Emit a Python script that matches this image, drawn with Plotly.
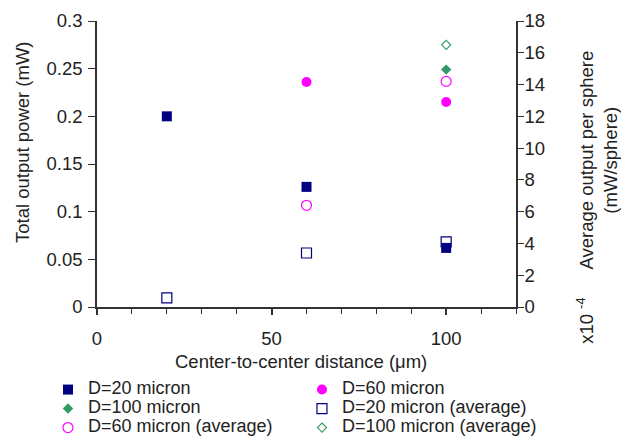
import plotly.graph_objects as go

# ---- data ----
x_d20 = [20, 60, 100]
y_d20 = [0.2, 0.126, 0.062]
x_d60 = [60, 100]
y_d60 = [0.236, 0.215]
x_d100 = [100]
y_d100 = [0.249]
x_d20_avg = [20, 60, 100]
y_d20_avg = [0.58, 3.4, 4.1]
x_d60_avg = [60, 100]
y_d60_avg = [6.4, 14.2]
x_d100_avg = [100]
y_d100_avg = [16.5]

names = ["D=20 micron", "D=60 micron", "D=100 micron",
         "D=20 micron (average)", "D=60 micron (average)", "D=100 micron (average)"]

NAVY = "#000080"
MAG = "#FF00FF"
GREEN = "#339966"
FONT = "Liberation Sans, Arial, sans-serif"
TXT = "#222222"
AX = "#333333"

def lname(s):
    return '<span style="font-size:18px">' + s + '</span>'

fig = go.Figure()
fig.add_trace(go.Scatter(x=x_d20, y=y_d20, mode="markers", name=lname(names[0]),
                         marker=dict(symbol="square", size=10, color=NAVY), yaxis="y"))
fig.add_trace(go.Scatter(x=x_d60, y=y_d60, mode="markers", name=lname(names[1]),
                         marker=dict(symbol="circle", size=10, color=MAG), yaxis="y"))
fig.add_trace(go.Scatter(x=x_d100, y=y_d100, mode="markers", name=lname(names[2]),
                         marker=dict(symbol="diamond", size=8, color=GREEN), yaxis="y"))
fig.add_trace(go.Scatter(x=x_d20_avg, y=y_d20_avg, mode="markers", name=lname(names[3]),
                         marker=dict(symbol="square-open", size=10, color=NAVY, line=dict(width=1.2, color=NAVY)),
                         yaxis="y2"))
fig.add_trace(go.Scatter(x=x_d60_avg, y=y_d60_avg, mode="markers", name=lname(names[4]),
                         marker=dict(symbol="circle-open", size=10, color=MAG, line=dict(width=1.2, color=MAG)),
                         yaxis="y2"))
fig.add_trace(go.Scatter(x=x_d100_avg, y=y_d100_avg, mode="markers", name=lname(names[5]),
                         marker=dict(symbol="diamond-open", size=7, color=GREEN, line=dict(width=1.1, color=GREEN)),
                         yaxis="y2"))

tickfont = dict(family=FONT, size=18.5, color=TXT)

fig.update_layout(
    width=621, height=436,
    margin=dict(l=97, r=105, t=21, b=129, autoexpand=False),
    paper_bgcolor="white", plot_bgcolor="white",
    font=dict(family=FONT, size=18.5, color=TXT),
    showlegend=True,
    legend=dict(orientation="h", xref="paper", yref="paper",
                x=-0.117, y=-0.238, xanchor="left", yanchor="top",
                font=dict(family=FONT, size=11, color=TXT),
                entrywidth=209, entrywidthmode="pixels",
                itemwidth=30, traceorder="normal", bgcolor="rgba(0,0,0,0)"),
    xaxis=dict(range=[0, 120], tickmode="array", tickvals=[0, 50, 100],
               ticks="outside", ticklen=6, tickwidth=1.5, tickcolor=AX,
               minor=dict(dtick=10, tick0=0, ticks="outside", ticklen=5, tickwidth=1, tickcolor=AX),
               showline=True, linecolor=AX, linewidth=1.5, showgrid=False, zeroline=False,
               tickfont=tickfont, ticklabelstandoff=8, automargin=False),
    yaxis=dict(range=[0, 0.3], dtick=0.05, tick0=0, ticks="outside", ticklen=7, tickwidth=1,
               tickcolor=AX, showline=True, linecolor=AX, linewidth=1.5, showgrid=False,
               zeroline=False, tickfont=tickfont, ticklabelstandoff=2, automargin=False),
    yaxis2=dict(range=[0, 18], dtick=2, tick0=0, overlaying="y", side="right", ticks="outside",
                ticklen=6, tickwidth=1, tickcolor=AX, showline=True, linecolor=AX, linewidth=1.5,
                showgrid=False, zeroline=False, tickfont=tickfont, ticklabelstandoff=-3, automargin=False),
)

ann = dict(xref="paper", yref="paper", showarrow=False, font=dict(family=FONT, size=18.5, color=TXT))
fig.add_annotation(text="Center-to-center distance (μm)", x=0.488, y=-0.189,
                   xanchor="center", yanchor="middle", **ann)
fig.add_annotation(text="Total output power (mW)", x=-0.1766, y=0.577, textangle=-90,
                   xanchor="center", yanchor="middle", **ann)
fig.add_annotation(text="Average output per sphere<br>(mW/sphere)", x=1.197, y=0.514, textangle=-90,
                   xanchor="center", yanchor="middle", **ann)
fig.add_annotation(text="x10 <sup>-4</sup>", x=1.166, y=-0.05, textangle=-90,
                   xanchor="center", yanchor="middle", **ann)

fig.write_html("out.html")
